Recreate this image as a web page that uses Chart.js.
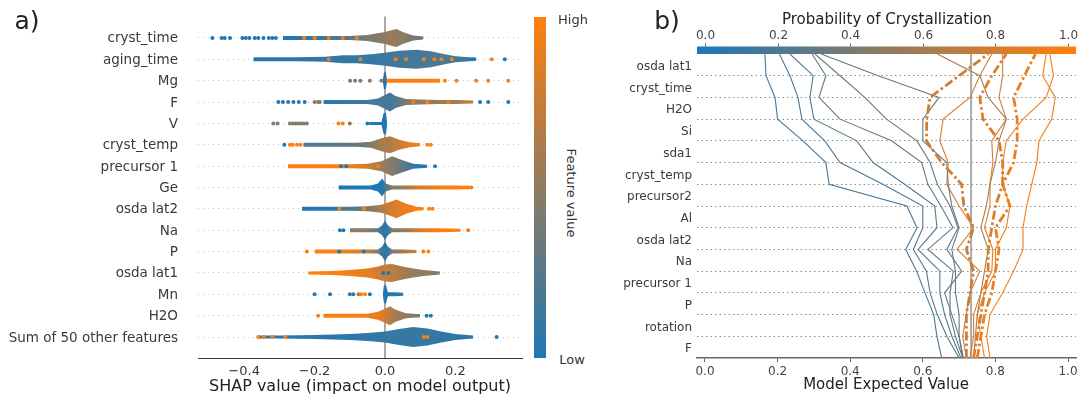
<!DOCTYPE html>
<html>
<head>
<meta charset="utf-8">
<script src="https://cdn.jsdelivr.net/npm/chart.js@4.4.0/dist/chart.umd.min.js"></script>
<style>
body { margin: 0; background: #fff; width: 1080px; height: 396px; overflow: hidden; position: relative; font-family: "DejaVu Sans", sans-serif; }
canvas { position: absolute; top: 0; }
.t { position: absolute; white-space: nowrap; color: #222; transform: translate(-50%, -50%); }
</style>
</head>
<body>
<canvas id="beeswarm" width="530" height="396" style="left:0"></canvas>
<canvas id="decision" width="480" height="396" style="left:600px"></canvas>
<div id="featbar" style="position:absolute;left:534px;top:16.6px;width:12px;height:341.8px;background:linear-gradient(to top, rgb(31,119,180), rgb(255,127,14));"></div>
<div class="t" style="left:27px;top:20px;font-size:25px">a)</div>
<div class="t" style="left:667px;top:20px;font-size:25px">b)</div>
<div class="t" style="left:360px;top:385px;font-size:16px">SHAP value (impact on model output)</div>
<div class="t" style="left:573px;top:19px;font-size:13px;color:#333">High</div>
<div class="t" style="left:572px;top:359px;font-size:13px;color:#333">Low</div>
<div class="t" style="left:571px;top:193px;font-size:13px;color:#333;transform:translate(-50%,-50%) rotate(90deg)">Feature value</div>
<div class="t" style="left:887px;top:19px;font-size:15px">Probability of Crystallization</div>
<div class="t" style="left:886px;top:384px;font-size:15px">Model Expected Value</div>
<script>
// ---- panel a: beeswarm ----
const featureNames = ["cryst_time", "aging_time", "Mg", "F", "V", "cryst_temp", "precursor 1", "Ge",
  "osda lat2", "Na", "P", "osda lat1", "Mn", "H2O", "Sum of 50 other features"];
const shapTicks = [-0.4, -0.2, 0.0, 0.2];

// dense body of each row: shap value knots, relative sample density, mean feature value
const bodyShap = [
  [-0.29, -0.2, -0.1, -0.05, 0.0, 0.02, 0.033, 0.05, 0.08, 0.109],
  [-0.374, -0.25, -0.17, -0.12, -0.08, -0.04, 0.0, 0.04, 0.09, 0.13, 0.17, 0.2, 0.26],
  [-0.006, -0.003, 0.002, 0.006, 0.05, 0.1, 0.156],
  [-0.175, -0.1, -0.05, -0.02, 0.0, 0.014, 0.03, 0.06, 0.1, 0.15, 0.2, 0.25],
  [-0.045, -0.01, -0.004, 0.003, 0.006],
  [-0.232, -0.15, -0.08, -0.04, -0.01, 0.014, 0.04, 0.07, 0.1],
  [-0.276, -0.2, -0.1, -0.05, -0.01, 0.02, 0.05, 0.08, 0.12],
  [-0.132, -0.08, -0.04, -0.02, -0.008, 0.002, 0.02, 0.06, 0.1, 0.15, 0.2, 0.245],
  [-0.236, -0.15, -0.1, -0.05, -0.01, 0.015, 0.033, 0.06, 0.09, 0.11],
  [-0.1, -0.05, -0.02, -0.008, 0.0, 0.008, 0.02, 0.06, 0.1, 0.15, 0.215],
  [-0.2, -0.15, -0.1, -0.05, -0.02, -0.008, 0.0, 0.008, 0.02, 0.05, 0.09],
  [-0.218, -0.15, -0.1, -0.05, -0.02, 0.0, 0.02, 0.05, 0.08, 0.11, 0.156],
  [-0.006, -0.003, 0.003, 0.008, 0.03, 0.052],
  [-0.175, -0.1, -0.05, -0.02, 0.0, 0.014, 0.03, 0.06, 0.1],
  [-0.36, -0.3, -0.2, -0.1, -0.05, 0.0, 0.04, 0.08, 0.12, 0.16, 0.2, 0.25]
];
const bodyDensity = [
  [4, 4, 4, 6, 12, 16, 18, 12, 5, 3],
  [4, 4, 5, 8, 8, 10, 13, 17, 19, 16, 10, 6, 3],
  [2, 17, 17, 4, 4, 4, 4],
  [4, 4, 4, 7, 14, 19, 12, 6, 5, 4, 4, 3],
  [3, 3, 21, 21, 1],
  [4, 4, 4, 6, 13, 17, 10, 5, 3],
  [4, 4, 4, 5, 10, 20, 12, 5, 3],
  [4, 4, 4, 8, 18, 8, 4, 4, 4, 4, 4, 3],
  [4, 4, 4, 5, 8, 14, 19, 10, 4, 3],
  [4, 4, 4, 10, 20, 10, 4, 4, 4, 4, 3],
  [4, 4, 4, 4, 4, 10, 20, 10, 4, 4, 3],
  [3, 4, 6, 9, 13, 17, 18, 13, 9, 6, 3],
  [2, 18, 18, 4, 4, 3],
  [4, 4, 4, 8, 14, 19, 12, 5, 3],
  [3, 3, 4, 6, 8, 11, 16, 20, 17, 11, 6, 3]
];
const bodyFeature = [
  [0.0, 0.1, 0.25, 0.4, 0.5, 0.55, 0.5, 0.5, 0.4, 0.3],
  [0.05, 0.05, 0.08, 0.1, 0.1, 0.1, 0.12, 0.15, 0.15, 0.2, 0.2, 0.15, 0.1],
  [0, 0, 0, 1, 1, 1, 1],
  [0.05, 0.1, 0.15, 0.2, 0.15, 0.15, 0.25, 0.4, 0.5, 0.55, 0.6, 0.7],
  [0, 0, 0, 0, 0],
  [0.2, 0.25, 0.3, 0.45, 0.6, 0.65, 0.75, 0.9, 0.95],
  [1, 1, 0.95, 0.8, 0.55, 0.45, 0.3, 0.1, 0],
  [0, 0, 0, 0, 0, 0.2, 0.45, 0.6, 0.8, 0.95, 1, 1],
  [0, 0.05, 0.2, 0.4, 0.65, 0.8, 0.85, 0.9, 1, 1],
  [0.5, 0.45, 0.3, 0.1, 0.05, 0.1, 0.4, 0.55, 0.8, 1, 1],
  [1, 1, 0.9, 0.8, 0.4, 0.1, 0.05, 0.1, 0.4, 0.6, 0.8],
  [1, 1, 0.95, 0.9, 0.8, 0.75, 0.7, 0.6, 0.55, 0.5, 0.45],
  [0, 0, 0, 0, 0.05, 0.05],
  [1, 1, 0.95, 0.9, 0.8, 0.7, 0.6, 0.5, 0.4],
  [0.05, 0.05, 0.05, 0.06, 0.08, 0.1, 0.1, 0.1, 0.1, 0.08, 0.06, 0.05]
];
// isolated samples: shap value and feature value
const dotShap = [
  [-0.49, -0.464, -0.455, -0.44, -0.405, -0.395, -0.385, -0.37, -0.36, -0.345, -0.33, -0.32, -0.31, -0.23, -0.2, -0.16, -0.12, -0.08],
  [-0.16, -0.07, 0.03, 0.06, 0.11, 0.14, 0.16, 0.19, 0.25, 0.303, 0.34],
  [-0.099, -0.085, -0.07, -0.043, -0.01, 0.17, 0.203, 0.259, 0.293, 0.35],
  [-0.303, -0.29, -0.275, -0.26, -0.245, -0.228, -0.2, -0.19, -0.185, 0.08, 0.12, 0.18, 0.27, 0.293, 0.35],
  [-0.317, -0.305, -0.27, -0.262, -0.254, -0.246, -0.238, -0.23, -0.222, -0.132, -0.12, -0.1, -0.05],
  [-0.286, -0.27, -0.262, -0.25, -0.24, 0.12, 0.13],
  [-0.125, -0.11, -0.02, 0.142],
  [-0.125, 0.235, 0.245],
  [-0.13, -0.06, 0.125, 0.135],
  [-0.128, -0.118, 0.236],
  [-0.222, -0.13, -0.06, 0.109, 0.123],
  [-0.005, 0.01],
  [-0.2, -0.156, -0.1, -0.09, -0.075, -0.068, -0.057, -0.043],
  [-0.19, 0.118, 0.13],
  [-0.36, -0.345, -0.32, -0.283, 0.11, 0.12, 0.317]
];
const dotFeature = [
  [0, 0, 0, 0, 0, 0, 0, 0, 0, 0, 0, 0, 0, 1, 1, 1, 1, 1],
  [1, 1, 1, 1, 1, 1, 1, 1, 0, 1, 0],
  [0.45, 0.45, 0.45, 0.45, 0.45, 1, 1, 1, 1, 1],
  [0, 0, 0, 0, 0, 0, 0.45, 0.45, 0.45, 1, 1, 1, 0, 0, 0],
  [0.45, 0.45, 0.45, 0.45, 0.45, 0.45, 0.45, 0.45, 0.45, 1, 1, 0.45, 0],
  [0, 1, 1, 1, 1, 1, 1],
  [0, 0, 1, 0],
  [0, 1, 1],
  [1, 1, 1, 1],
  [0, 0, 1],
  [1, 0, 0, 1, 1],
  [0, 0],
  [0, 0, 0, 0.1, 0.5, 1, 1, 0],
  [1, 0, 0],
  [1, 1, 1, 1, 1, 1, 0]
];

// ---- panel b: decision plot ----
const decisionFeatures = ["osda lat1", "cryst_time", "H2O", "Si", "sda1", "cryst_temp", "precursor2", "Al",
  "osda lat2", "Na", "precursor 1", "P", "rotation", "F"];
const probTicks = [0.0, 0.2, 0.4, 0.6, 0.8, 1.0];
const baseValue = 0.733;
// cumulative model output, from the bottom row (index 0) up to the final prediction (index 14)
const decisionPaths = [
  [0.652, 0.639, 0.63, 0.606, 0.583, 0.553, 0.584, 0.556, 0.342, 0.333, 0.27, 0.2, 0.193, 0.168, 0.165],
  [0.70, 0.666, 0.64, 0.62, 0.61, 0.574, 0.60, 0.60, 0.49, 0.372, 0.33, 0.267, 0.256, 0.234, 0.205],
  [0.705, 0.68, 0.66, 0.647, 0.647, 0.587, 0.639, 0.633, 0.55, 0.463, 0.418, 0.30, 0.289, 0.298, 0.234],
  [0.71, 0.69, 0.675, 0.675, 0.684, 0.614, 0.683, 0.65, 0.614, 0.597, 0.514, 0.372, 0.314, 0.333, 0.295],
  [0.71, 0.70, 0.68, 0.66, 0.707, 0.666, 0.697, 0.675, 0.64, 0.62, 0.584, 0.50, 0.44, 0.372, 0.303],
  [0.712, 0.70, 0.70, 0.69, 0.69, 0.68, 0.70, 0.68, 0.67, 0.666, 0.60, 0.60, 0.645, 0.477, 0.32],
  [0.74, 0.745, 0.75, 0.76, 0.77, 0.78, 0.76, 0.775, 0.785, 0.80, 0.81, 0.83, 0.78, 0.757, 0.64],
  [0.72, 0.71, 0.72, 0.73, 0.757, 0.694, 0.74, 0.70, 0.666, 0.67, 0.647, 0.656, 0.73, 0.757, 0.79],
  [0.73, 0.74, 0.74, 0.76, 0.79, 0.793, 0.77, 0.785, 0.785, 0.793, 0.79, 0.83, 0.81, 0.82, 0.82],
  [0.77, 0.76, 0.75, 0.77, 0.80, 0.80, 0.83, 0.84, 0.82, 0.82, 0.83, 0.876, 0.94, 0.96, 0.95],
  [0.785, 0.776, 0.785, 0.82, 0.85, 0.876, 0.876, 0.886, 0.90, 0.914, 0.92, 0.955, 0.965, 0.93, 0.94],
  [0.72, 0.72, 0.72, 0.73, 0.74, 0.72, 0.74, 0.713, 0.707, 0.652, 0.61, 0.611, 0.62, 0.70, 0.78],
  [0.74, 0.75, 0.76, 0.77, 0.78, 0.78, 0.79, 0.80, 0.82, 0.82, 0.81, 0.766, 0.757, 0.79, 0.83],
  [0.75, 0.76, 0.77, 0.79, 0.80, 0.81, 0.80, 0.84, 0.82, 0.85, 0.86, 0.86, 0.85, 0.88, 0.91]
];
const highlighted = [false, false, false, false, false, false, false, false, false, false, false, true, true, true];

// blue -> orange colormap
function cmap(t) {
  return `rgb(${Math.round(31 + 224 * t)}, ${Math.round(119 + 8 * t)}, ${Math.round(180 - 166 * t)})`;
}

function fmtTick(v) {
  const s = Math.abs(v).toFixed(1);
  return v < -1e-9 ? '\u2212' + s : s;
}

// keep the plot box where it is, whatever the label sizes
function noPad(s) {
  s.paddingTop = 0; s.paddingBottom = 0; s.paddingLeft = 0; s.paddingRight = 0;
}

const FONT = 'DejaVu Sans';
const HALF = 0.5 / 21.4; // one density unit is one pixel of thickness

function bodyGradient(row) {
  return function(context) {
    const chart = context.chart;
    const xs = chart.scales.x;
    if (!chart.chartArea || !xs) return cmap(bodyFeature[row][0]);
    const xv = bodyShap[row];
    const p0 = xs.getPixelForValue(xv[0]);
    const p1 = xs.getPixelForValue(xv[xv.length - 1]);
    const g = chart.ctx.createLinearGradient(p0, 0, p1, 0);
    xv.forEach((v, k) => {
      g.addColorStop((xs.getPixelForValue(v) - p0) / (p1 - p0), cmap(bodyFeature[row][k]));
    });
    return g;
  };
}

const swarmSets = [];
const dotData = [];
const dotColors = [];
featureNames.forEach((name, i) => {
  const yv = featureNames.length - 1 - i;
  swarmSets.push({
    data: bodyShap[i].map((v, k) => ({x: v, y: yv + bodyDensity[i][k] * HALF})),
    showLine: true, fill: '+1', backgroundColor: bodyGradient(i),
    borderWidth: 0, borderColor: 'rgba(0,0,0,0)', pointRadius: 0, order: 1
  });
  swarmSets.push({
    data: bodyShap[i].map((v, k) => ({x: v, y: yv - bodyDensity[i][k] * HALF})),
    showLine: true, fill: false,
    borderWidth: 0, borderColor: 'rgba(0,0,0,0)', pointRadius: 0, order: 1
  });
  dotShap[i].forEach((v, k) => {
    dotData.push({x: v, y: yv});
    dotColors.push(cmap(dotFeature[i][k]));
  });
});
swarmSets.push({
  data: dotData, showLine: false, pointRadius: 2, pointBorderWidth: 0,
  pointBackgroundColor: dotColors, order: 0
});

new Chart(document.getElementById('beeswarm'), {
  type: 'scatter',
  data: {datasets: swarmSets},
  options: {
    responsive: false,
    animation: false,
    layout: {padding: {left: 0, right: 8, top: 16.6, bottom: 0}},
    plugins: {legend: {display: false}, tooltip: {enabled: false}},
    scales: {
      x: {
        type: 'linear', min: -0.531, max: 0.389,
        afterBuildTicks: s => { s.ticks = shapTicks.map(v => ({value: v})); },
        afterFit: s => { s.height = 37.6; noPad(s); },
        grid: {
          drawTicks: false, lineWidth: 2,
          color: c => (c.tick && Math.abs(c.tick.value) < 1e-9) ? '#aaaaaa' : 'rgba(0,0,0,0)'
        },
        border: {color: '#333', width: 1},
        ticks: {padding: 5, color: '#333', font: {family: FONT, size: 13}, callback: v => fmtTick(v)}
      },
      y: {
        type: 'linear', min: -1, max: 15,
        afterBuildTicks: s => { s.ticks = featureNames.map((_, i) => ({value: i})); },
        afterFit: s => { s.width = 198; noPad(s); },
        grid: {drawTicks: false, color: '#c4c4c4', lineWidth: 1},
        border: {display: false, dash: [1, 4]},
        ticks: {
          padding: 20, autoSkip: false, labelOffset: 1, color: '#3a3a3a', font: {family: FONT, size: 13.5},
          callback: v => featureNames[featureNames.length - 1 - v]
        }
      }
    }
  }
});

// ---- decision chart ----
// horizontal colour bar above the plot, with its own tick labels on the x scale
const colorbarPlugin = {
  id: 'colorbar',
  afterDraw(chart) {
    const {ctx, chartArea: a, scales} = chart;
    const x = scales.x;
    const barTop = a.top - 7.5;
    const g = ctx.createLinearGradient(x.getPixelForValue(0), 0, x.getPixelForValue(1), 0);
    g.addColorStop(0, cmap(0));
    g.addColorStop(1, cmap(1));
    ctx.save();
    ctx.fillStyle = g;
    ctx.fillRect(a.left, barTop, a.right - a.left, 7.5);
    ctx.strokeStyle = '#666';
    ctx.lineWidth = 1;
    ctx.fillStyle = '#444';
    ctx.font = '12px "DejaVu Sans"';
    ctx.textAlign = 'center';
    ctx.textBaseline = 'alphabetic';
    probTicks.forEach(v => {
      const px = Math.round(x.getPixelForValue(v)) + 0.5;
      ctx.beginPath();
      ctx.moveTo(px, barTop - 3);
      ctx.lineTo(px, barTop);
      ctx.stroke();
      ctx.fillText(fmtTick(v), px, barTop - 8);
    });
    ctx.restore();
  }
};

const decisionSets = decisionPaths.map((vals, i) => ({
  data: vals.map((v, k) => ({x: v, y: k})),
  showLine: true, fill: false, pointRadius: 0, tension: 0,
  borderColor: cmap(vals[vals.length - 1]),
  borderWidth: highlighted[i] ? 2.8 : 1.1,
  borderDash: highlighted[i] ? [9, 3, 2.5, 3] : [],
  order: highlighted[i] ? 0 : 1
}));
decisionSets.push({
  data: [{x: baseValue, y: 0}, {x: baseValue, y: decisionFeatures.length}],
  showLine: true, fill: false, pointRadius: 0,
  borderColor: '#aaaaaa', borderWidth: 2, order: 5
});

const levelTicks = [];
for (let k = 0; k <= decisionFeatures.length * 2; k++) levelTicks.push(k / 2);

new Chart(document.getElementById('decision'), {
  type: 'scatter',
  data: {datasets: decisionSets},
  options: {
    responsive: false,
    animation: false,
    layout: {padding: {left: 0, right: 4, top: 54, bottom: 0}},
    plugins: {legend: {display: false}, tooltip: {enabled: false}},
    scales: {
      x: {
        type: 'linear', min: -0.022, max: 1.022,
        afterBuildTicks: s => { s.ticks = probTicks.map(v => ({value: v})); },
        afterFit: s => { s.height = 38; noPad(s); },
        grid: {drawOnChartArea: false, drawTicks: true, tickLength: 4, color: '#666'},
        border: {color: '#666', width: 1.5},
        ticks: {padding: 3, color: '#444', font: {family: FONT, size: 12}, callback: v => fmtTick(v)}
      },
      y: {
        type: 'linear', min: 0, max: decisionFeatures.length,
        afterBuildTicks: s => { s.ticks = levelTicks.map(v => ({value: v})); },
        afterFit: s => { s.width = 97; noPad(s); },
        grid: {
          drawTicks: false, lineWidth: 1,
          color: c => {
            const v = c.tick ? c.tick.value : 0;
            return (Number.isInteger(v) && v > 0 && v < decisionFeatures.length) ? '#8c8c8c' : 'rgba(0,0,0,0)';
          }
        },
        border: {display: false, dash: [1.5, 3]},
        ticks: {
          padding: 5, autoSkip: false, labelOffset: 2, color: '#3a3a3a', font: {family: FONT, size: 12},
          callback: v => Number.isInteger(v) ? '' : decisionFeatures[Math.round(decisionFeatures.length - 0.5 - v)]
        }
      }
    }
  },
  plugins: [colorbarPlugin]
});
</script>
</body>
</html>
